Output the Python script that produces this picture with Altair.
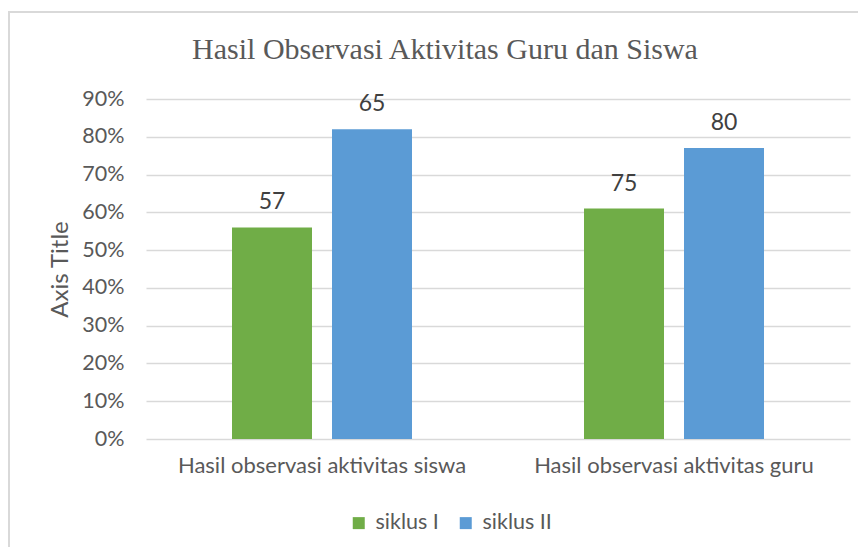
import altair as alt
import pandas as pd

categories = ["Hasil observasi aktivitas siswa", "Hasil observasi aktivitas guru"]
series = ["siklus I", "siklus II"]
siklus_1 = [0.56, 0.61]
siklus_2 = [0.82, 0.77]
label_1 = ["57", "75"]
label_2 = ["65", "80"]
colors = ["#70ad47", "#5b9bd5"]
y_ticks = [0.0, 0.1, 0.2, 0.3, 0.4, 0.5, 0.6, 0.7, 0.8, 0.9]

rows = []
for i, c in enumerate(categories):
    rows.append({"cat": c, "series": series[0], "value": siklus_1[i], "label": label_1[i]})
    rows.append({"cat": c, "series": series[1], "value": siklus_2[i], "label": label_2[i]})
df = pd.DataFrame(rows)

FONT = "Lato"
GREY = "#595959"

x = alt.X(
    "cat:N", sort=categories,
    scale=alt.Scale(paddingInner=0, paddingOuter=0),
    axis=alt.Axis(title=None, labelAngle=0, ticks=False, domain=False, grid=False, labelLimit=0,
                  labelPadding=16, labelFontSize=22, labelFont=FONT, labelColor=GREY),
)
xoff = alt.XOffset("series:N", sort=series, scale=alt.Scale(paddingInner=0.2, paddingOuter=0.86))
y = alt.Y(
    "value:Q",
    scale=alt.Scale(domain=[0, 0.9], nice=False, zero=True),
    axis=alt.Axis(values=y_ticks, format=".0%", title="Axis Title", ticks=False, domain=False,
                  grid=True, gridColor="#d9d9d9", gridWidth=1.5,
                  labelPadding=22, labelFontSize=21.5, labelFont=FONT, labelColor=GREY,
                  titleFont=FONT, titleFontSize=24, titleColor=GREY, titleFontWeight="normal",
                  titleAngle=-90, titleX=-86, titleY=170, titleAlign="center", titleBaseline="middle"),
)
color = alt.Color(
    "series:N", sort=series,
    scale=alt.Scale(domain=series, range=colors),
    legend=alt.Legend(title=None, orient="none", legendX=202, legendY=413, direction="horizontal",
                      symbolType="square", symbolSize=144, symbolStrokeWidth=0,
                      labelFontSize=21.5, labelFont=FONT, labelColor=GREY, labelOffset=6,
                      columnPadding=16),
)

frame = alt.Chart(pd.DataFrame({"a": [0]})).mark_rect(
    fillOpacity=0, stroke="#d9d9d9", strokeWidth=2
).encode(x=alt.value(-137), x2=alt.value(760), y=alt.value(-87), y2=alt.value(480))

bars = alt.Chart(df).mark_bar().encode(x=x, xOffset=xoff, y=y, color=color)
text = alt.Chart(df).mark_text(dy=-25, fontSize=23, font=FONT, color="#404040", baseline="middle").encode(
    x=x, xOffset=xoff, y=y, text="label:N"
)

chart = alt.layer(frame, bars, text).properties(
    width=704, height=340,
    title=alt.Title("Hasil Observasi Aktivitas Guru dan Siswa", font="Liberation Serif", fontSize=30,
                    color=GREY, fontWeight="normal", anchor="middle", dx=-53, offset=-69,
                    baseline="middle"),
    autosize=alt.AutoSizeParams(type="none"),
    padding={"left": 138, "top": 91, "right": 8, "bottom": 108},
).configure_view(stroke=None)

chart.save("out.html", embed_options={"renderer": "svg", "actions": False})
